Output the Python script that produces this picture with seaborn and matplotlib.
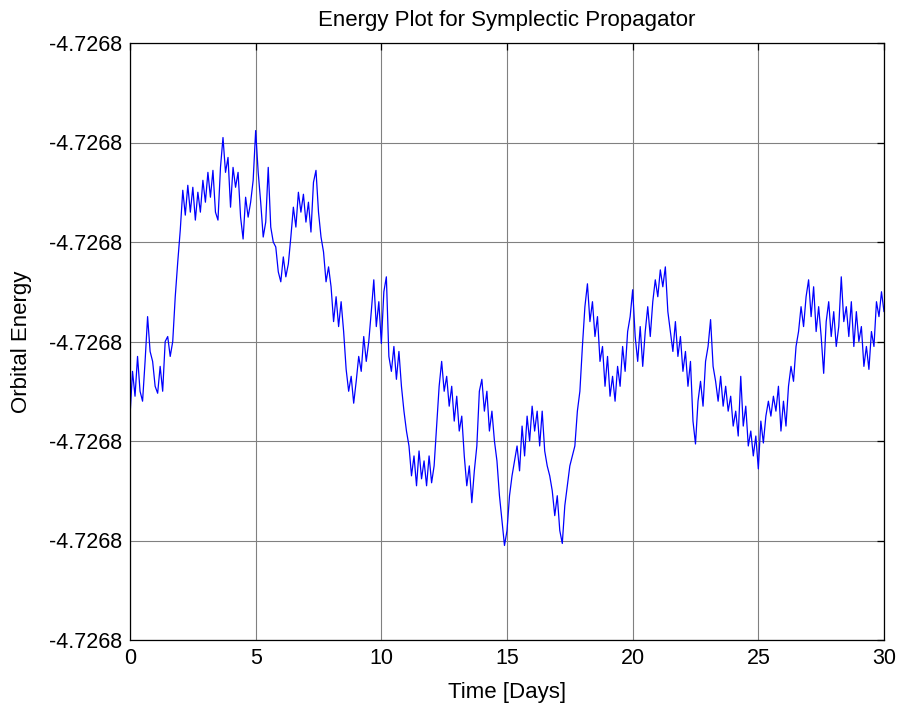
import numpy as np
import pandas as pd
import matplotlib
matplotlib.use("Agg")
import matplotlib.pyplot as plt
import seaborn as sns
from matplotlib.ticker import FormatStrFormatter

# Energy deviation, in units of one y-tick step, sampled every 0.1 day
dev_0_5 = [2.25, 2.70, 2.45, 2.85, 2.50, 2.40, 2.80, 3.25, 2.90, 2.80,
           2.55, 2.48, 2.75, 2.50, 3.00, 3.05, 2.85, 3.00, 3.45, 3.80,
           4.12, 4.52, 4.27, 4.57, 4.30, 4.55, 4.22, 4.50, 4.30, 4.62,
           4.40, 4.70, 4.45, 4.72, 4.30, 4.22, 4.75, 5.05, 4.70, 4.85,
           4.35, 4.75, 4.55, 4.70, 4.25, 4.03, 4.45, 4.25, 4.40, 4.62]
dev_5_10 = [5.12, 4.70, 4.40, 4.05, 4.20, 4.75, 4.15, 4.00, 3.95, 3.70,
            3.60, 3.85, 3.65, 3.78, 4.05, 4.35, 4.15, 4.50, 4.30, 4.48,
            4.20, 4.40, 4.10, 4.60, 4.72, 4.30, 4.05, 3.90, 3.60, 3.75,
            3.55, 3.20, 3.45, 3.15, 3.40, 3.10, 2.72, 2.50, 2.65, 2.38,
            2.60, 2.85, 2.70, 3.05, 2.80, 3.00, 3.30, 3.62, 3.15, 3.40]
dev_10_15 = [2.98, 3.50, 3.65, 2.85, 2.70, 2.95, 2.62, 2.90, 2.55, 2.30,
             2.10, 1.95, 1.65, 1.85, 1.55, 1.90, 1.62, 1.80, 1.55, 1.85,
             1.58, 1.75, 2.15, 2.55, 2.80, 2.50, 2.65, 2.35, 2.55, 2.20,
             2.45, 2.10, 2.25, 1.85, 1.55, 1.75, 1.38, 1.70, 1.95, 2.50,
             2.62, 2.30, 2.50, 2.10, 2.30, 2.00, 1.80, 1.45, 1.20, 0.95]
dev_15_20 = [1.10, 1.45, 1.65, 1.80, 1.95, 1.70, 2.15, 1.85, 2.25, 2.00,
             2.35, 2.10, 2.30, 1.95, 2.30, 1.90, 1.75, 1.65, 1.50, 1.25,
             1.45, 1.10, 0.97, 1.35, 1.55, 1.75, 1.85, 1.95, 2.30, 2.50,
             2.95, 3.35, 3.58, 3.20, 3.40, 3.05, 3.25, 2.80, 2.95, 2.55,
             2.85, 2.45, 2.65, 2.40, 2.75, 2.55, 2.95, 2.70, 3.10, 3.25]
dev_20_25 = [3.52, 3.05, 2.80, 3.15, 2.75, 3.10, 3.35, 3.05, 3.40, 3.62,
             3.45, 3.72, 3.55, 3.75, 3.30, 3.10, 2.90, 3.20, 2.85, 3.05,
             2.70, 2.90, 2.55, 2.80, 2.20, 1.97, 2.40, 2.60, 2.35, 2.80,
             2.95, 3.22, 2.75, 2.60, 2.40, 2.65, 2.35, 2.55, 2.30, 2.45,
             2.15, 2.30, 2.05, 2.65, 2.15, 2.35, 1.95, 2.10, 1.85, 2.05]
dev_25_30 = [1.72, 2.20, 1.98, 2.25, 2.40, 2.25, 2.45, 2.30, 2.55, 2.10,
             2.40, 2.15, 2.55, 2.75, 2.60, 2.95, 3.10, 3.35, 3.15, 3.45,
             3.62, 3.25, 3.55, 3.10, 3.35, 3.05, 2.68, 3.20, 3.40, 3.05,
             3.30, 2.95, 3.15, 3.65, 3.20, 3.35, 3.05, 3.40, 2.95, 3.30,
             3.00, 3.15, 2.75, 2.95, 2.72, 3.10, 2.95, 3.40, 3.25, 3.50,
             3.30]

E_REF = -4.72680        # energy at middle tick
TICK_STEP = 1.0e-6      # energy per tick step
y_tick_units = [0, 1, 2, 3, 4, 5, 6]
x_ticks = [0, 5, 10, 15, 20, 25, 30]

dev = np.array(dev_0_5 + dev_5_10 + dev_10_15 + dev_15_20 + dev_20_25 + dev_25_30)
time_days = np.round(np.arange(len(dev)) * 0.1, 1)
energy = E_REF + (dev - 3.0) * TICK_STEP
df = pd.DataFrame({"Time [Days]": time_days, "Orbital Energy": energy})

sns.set_style("white")
plt.rcParams['font.family'] = ['Liberation Sans', 'DejaVu Sans']
plt.rcParams['text.color'] = 'black'
plt.rcParams['axes.labelcolor'] = 'black'

fig = plt.figure(figsize=(9.0, 7.04), dpi=100)
fig.patch.set_facecolor("white")
ax = fig.add_axes([130/900, (704-640)/704, (884-130)/900, (640-43)/704])

sns.lineplot(data=df, x="Time [Days]", y="Orbital Energy", ax=ax,
             color="#0000ff", linewidth=0.9, estimator=None, sort=False)

ax.set_xlim(0, 30)
yt = [E_REF + (k - 3.0) * TICK_STEP for k in y_tick_units]
ax.set_ylim(yt[0], yt[-1])
ax.set_xticks(x_ticks)
ax.set_yticks(yt)
ax.yaxis.set_major_formatter(FormatStrFormatter('%.4f'))

ax.grid(True, color="#808080", linewidth=0.8, linestyle='-')
ax.set_axisbelow(True)
for s in ax.spines.values():
    s.set_color("black")
    s.set_linewidth(0.9)
ax.tick_params(direction='in', length=5, width=0.9, top=True, right=True,
               labelsize=15.5, colors='black', pad=6)

ax.set_title("Energy Plot for Symplectic Propagator", fontsize=16, pad=12,
             color='black')
ax.set_xlabel("Time [Days]", fontsize=16, labelpad=9, color='black')
ax.set_ylabel("Orbital Energy", fontsize=16, labelpad=12, color='black')

fig.savefig("out.png", dpi=100, facecolor="white")
